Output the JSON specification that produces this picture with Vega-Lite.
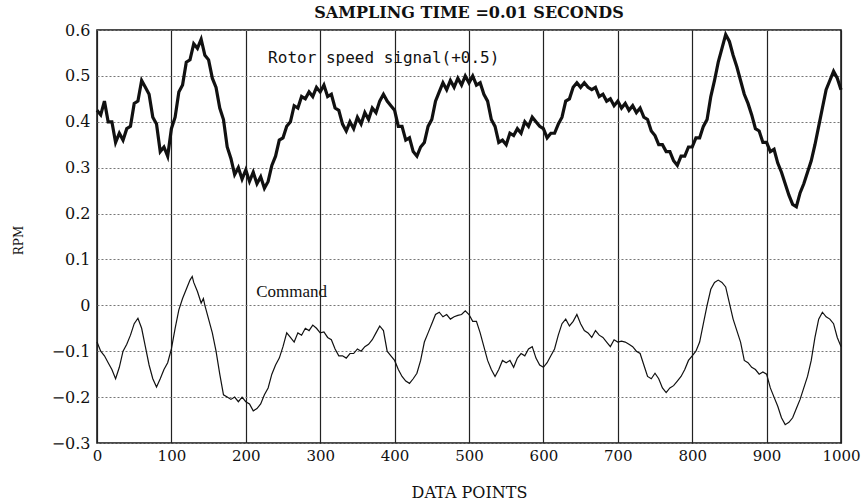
{
  "$schema": "https://vega.github.io/schema/vega-lite/v6.json",
  "width": 744,
  "height": 413,
  "autosize": {"type": "none"},
  "padding": {"left": 97, "top": 30, "right": 22, "bottom": 61},
  "background": "white",
  "title": {"text": "SAMPLING TIME =0.01 SECONDS", "font": "DejaVu Serif", "fontSize": 16, "fontWeight": "bold", "anchor": "middle", "offset": 1, "color": "#111"},
  "config": {
    "view": {"stroke": "#111", "strokeWidth": 1.5},
    "font": "DejaVu Serif"
  },
  "datasets": {
    "rotor": [
      {"x":0,"y":0.425},{"x":5,"y":0.415},{"x":10,"y":0.445},{"x":15,"y":0.40},{"x":20,"y":0.40},{"x":25,"y":0.355},{"x":30,"y":0.375},{"x":35,"y":0.36},{"x":40,"y":0.385},{"x":45,"y":0.39},
      {"x":50,"y":0.44},{"x":55,"y":0.445},{"x":60,"y":0.49},{"x":65,"y":0.475},{"x":70,"y":0.46},{"x":75,"y":0.41},{"x":80,"y":0.395},{"x":85,"y":0.335},{"x":90,"y":0.345},{"x":95,"y":0.325},
      {"x":100,"y":0.385},{"x":105,"y":0.41},{"x":110,"y":0.465},{"x":115,"y":0.48},{"x":120,"y":0.53},{"x":125,"y":0.535},{"x":130,"y":0.57},{"x":135,"y":0.56},{"x":140,"y":0.58},{"x":145,"y":0.545},
      {"x":150,"y":0.535},{"x":155,"y":0.495},{"x":160,"y":0.475},{"x":165,"y":0.43},{"x":170,"y":0.405},{"x":175,"y":0.345},{"x":180,"y":0.32},{"x":185,"y":0.285},{"x":190,"y":0.30},{"x":195,"y":0.275},
      {"x":200,"y":0.295},{"x":205,"y":0.27},{"x":210,"y":0.29},{"x":215,"y":0.265},{"x":220,"y":0.28},{"x":225,"y":0.255},{"x":230,"y":0.27},{"x":235,"y":0.305},{"x":240,"y":0.325},{"x":245,"y":0.36},
      {"x":250,"y":0.365},{"x":255,"y":0.39},{"x":260,"y":0.40},{"x":265,"y":0.435},{"x":270,"y":0.43},{"x":275,"y":0.455},{"x":280,"y":0.45},{"x":285,"y":0.465},{"x":290,"y":0.455},{"x":295,"y":0.475},
      {"x":300,"y":0.465},{"x":305,"y":0.48},{"x":310,"y":0.455},{"x":315,"y":0.46},{"x":320,"y":0.43},{"x":325,"y":0.425},{"x":330,"y":0.395},{"x":335,"y":0.38},{"x":340,"y":0.40},{"x":345,"y":0.385},
      {"x":350,"y":0.41},{"x":355,"y":0.395},{"x":360,"y":0.42},{"x":365,"y":0.405},{"x":370,"y":0.43},{"x":375,"y":0.42},{"x":380,"y":0.445},{"x":385,"y":0.46},{"x":390,"y":0.445},{"x":395,"y":0.435},
      {"x":400,"y":0.425},{"x":405,"y":0.39},{"x":410,"y":0.39},{"x":415,"y":0.36},{"x":420,"y":0.365},{"x":425,"y":0.335},{"x":430,"y":0.325},{"x":435,"y":0.345},{"x":440,"y":0.355},{"x":445,"y":0.39},
      {"x":450,"y":0.405},{"x":455,"y":0.445},{"x":460,"y":0.465},{"x":465,"y":0.485},{"x":470,"y":0.47},{"x":475,"y":0.49},{"x":480,"y":0.475},{"x":485,"y":0.495},{"x":490,"y":0.48},{"x":495,"y":0.50},
      {"x":500,"y":0.485},{"x":505,"y":0.50},{"x":510,"y":0.48},{"x":515,"y":0.485},{"x":520,"y":0.46},{"x":525,"y":0.445},{"x":530,"y":0.405},{"x":535,"y":0.39},{"x":540,"y":0.355},{"x":545,"y":0.36},
      {"x":550,"y":0.35},{"x":555,"y":0.375},{"x":560,"y":0.37},{"x":565,"y":0.385},{"x":570,"y":0.375},{"x":575,"y":0.40},{"x":580,"y":0.39},{"x":585,"y":0.41},{"x":590,"y":0.40},{"x":595,"y":0.39},
      {"x":600,"y":0.385},{"x":605,"y":0.365},{"x":610,"y":0.375},{"x":615,"y":0.375},{"x":620,"y":0.395},{"x":625,"y":0.41},{"x":630,"y":0.445},{"x":635,"y":0.45},{"x":640,"y":0.475},{"x":645,"y":0.485},
      {"x":650,"y":0.475},{"x":655,"y":0.485},{"x":660,"y":0.475},{"x":665,"y":0.47},{"x":670,"y":0.475},{"x":675,"y":0.455},{"x":680,"y":0.46},{"x":685,"y":0.445},{"x":690,"y":0.45},{"x":695,"y":0.435},
      {"x":700,"y":0.445},{"x":705,"y":0.43},{"x":710,"y":0.44},{"x":715,"y":0.425},{"x":720,"y":0.435},{"x":725,"y":0.42},{"x":730,"y":0.43},{"x":735,"y":0.41},{"x":740,"y":0.405},{"x":745,"y":0.38},
      {"x":750,"y":0.37},{"x":755,"y":0.35},{"x":760,"y":0.35},{"x":765,"y":0.335},{"x":770,"y":0.335},{"x":775,"y":0.315},{"x":780,"y":0.305},{"x":785,"y":0.325},{"x":790,"y":0.325},{"x":795,"y":0.345},
      {"x":800,"y":0.345},{"x":805,"y":0.365},{"x":810,"y":0.365},{"x":815,"y":0.39},{"x":820,"y":0.405},{"x":825,"y":0.455},{"x":830,"y":0.49},{"x":835,"y":0.53},{"x":840,"y":0.56},{"x":845,"y":0.59},
      {"x":850,"y":0.575},{"x":855,"y":0.545},{"x":860,"y":0.52},{"x":865,"y":0.49},{"x":870,"y":0.46},{"x":875,"y":0.44},{"x":880,"y":0.415},{"x":885,"y":0.385},{"x":890,"y":0.38},{"x":895,"y":0.355},
      {"x":900,"y":0.355},{"x":905,"y":0.335},{"x":910,"y":0.34},{"x":915,"y":0.31},{"x":920,"y":0.29},{"x":925,"y":0.265},{"x":930,"y":0.24},{"x":935,"y":0.22},{"x":940,"y":0.215},{"x":945,"y":0.245},
      {"x":950,"y":0.265},{"x":955,"y":0.29},{"x":960,"y":0.315},{"x":965,"y":0.35},{"x":970,"y":0.39},{"x":975,"y":0.43},{"x":980,"y":0.47},{"x":985,"y":0.49},{"x":990,"y":0.51},{"x":995,"y":0.495},
      {"x":1000,"y":0.47}
    ],
    "command": [
      {"x":0,"y":-0.08},{"x":5,"y":-0.1},{"x":10,"y":-0.11},{"x":15,"y":-0.125},{"x":20,"y":-0.14},{"x":25,"y":-0.16},{"x":30,"y":-0.135},{"x":35,"y":-0.1},{"x":40,"y":-0.085},{"x":45,"y":-0.065},
      {"x":50,"y":-0.04},{"x":55,"y":-0.028},{"x":60,"y":-0.05},{"x":65,"y":-0.09},{"x":70,"y":-0.13},{"x":75,"y":-0.16},{"x":80,"y":-0.178},{"x":85,"y":-0.16},{"x":90,"y":-0.14},{"x":95,"y":-0.125},
      {"x":100,"y":-0.095},{"x":105,"y":-0.05},{"x":110,"y":-0.01},{"x":115,"y":0.015},{"x":120,"y":0.035},{"x":125,"y":0.055},{"x":128,"y":0.063},{"x":130,"y":0.05},{"x":135,"y":0.03},{"x":140,"y":0.005},
      {"x":143,"y":0.015},{"x":145,"y":0.0},{"x":150,"y":-0.03},{"x":155,"y":-0.06},{"x":160,"y":-0.1},{"x":165,"y":-0.15},{"x":170,"y":-0.195},{"x":175,"y":-0.2},{"x":180,"y":-0.205},{"x":185,"y":-0.2},
      {"x":190,"y":-0.21},{"x":195,"y":-0.2},{"x":200,"y":-0.21},{"x":205,"y":-0.215},{"x":210,"y":-0.23},{"x":215,"y":-0.225},{"x":220,"y":-0.215},{"x":225,"y":-0.195},{"x":230,"y":-0.18},{"x":235,"y":-0.15},
      {"x":240,"y":-0.13},{"x":245,"y":-0.115},{"x":250,"y":-0.09},{"x":255,"y":-0.06},{"x":260,"y":-0.07},{"x":265,"y":-0.08},{"x":270,"y":-0.06},{"x":275,"y":-0.065},{"x":280,"y":-0.05},{"x":285,"y":-0.055},
      {"x":290,"y":-0.043},{"x":295,"y":-0.05},{"x":300,"y":-0.06},{"x":305,"y":-0.058},{"x":310,"y":-0.07},{"x":315,"y":-0.075},{"x":320,"y":-0.095},{"x":325,"y":-0.11},{"x":330,"y":-0.11},{"x":335,"y":-0.115},
      {"x":340,"y":-0.105},{"x":345,"y":-0.105},{"x":350,"y":-0.095},{"x":355,"y":-0.1},{"x":360,"y":-0.09},{"x":365,"y":-0.085},{"x":370,"y":-0.075},{"x":375,"y":-0.06},{"x":380,"y":-0.045},{"x":385,"y":-0.055},
      {"x":390,"y":-0.1},{"x":395,"y":-0.11},{"x":400,"y":-0.12},{"x":405,"y":-0.14},{"x":410,"y":-0.155},{"x":415,"y":-0.165},{"x":420,"y":-0.17},{"x":425,"y":-0.16},{"x":430,"y":-0.148},{"x":435,"y":-0.12},
      {"x":440,"y":-0.08},{"x":445,"y":-0.06},{"x":450,"y":-0.04},{"x":455,"y":-0.02},{"x":460,"y":-0.015},{"x":465,"y":-0.025},{"x":470,"y":-0.02},{"x":475,"y":-0.03},{"x":480,"y":-0.025},{"x":485,"y":-0.022},
      {"x":490,"y":-0.02},{"x":495,"y":-0.012},{"x":500,"y":-0.02},{"x":505,"y":-0.035},{"x":510,"y":-0.035},{"x":515,"y":-0.06},{"x":520,"y":-0.09},{"x":525,"y":-0.12},{"x":530,"y":-0.14},{"x":535,"y":-0.155},
      {"x":540,"y":-0.14},{"x":545,"y":-0.12},{"x":550,"y":-0.125},{"x":555,"y":-0.12},{"x":560,"y":-0.135},{"x":565,"y":-0.115},{"x":570,"y":-0.105},{"x":575,"y":-0.11},{"x":580,"y":-0.095},{"x":585,"y":-0.09},
      {"x":590,"y":-0.115},{"x":595,"y":-0.13},{"x":600,"y":-0.135},{"x":605,"y":-0.125},{"x":610,"y":-0.11},{"x":615,"y":-0.095},{"x":620,"y":-0.065},{"x":625,"y":-0.04},{"x":630,"y":-0.03},{"x":635,"y":-0.045},
      {"x":640,"y":-0.035},{"x":645,"y":-0.02},{"x":650,"y":-0.04},{"x":655,"y":-0.055},{"x":660,"y":-0.06},{"x":665,"y":-0.07},{"x":670,"y":-0.055},{"x":675,"y":-0.065},{"x":680,"y":-0.07},{"x":685,"y":-0.08},
      {"x":690,"y":-0.09},{"x":695,"y":-0.075},{"x":700,"y":-0.08},{"x":705,"y":-0.078},{"x":710,"y":-0.08},{"x":715,"y":-0.085},{"x":720,"y":-0.09},{"x":725,"y":-0.1},{"x":730,"y":-0.105},{"x":735,"y":-0.13},
      {"x":740,"y":-0.155},{"x":745,"y":-0.16},{"x":750,"y":-0.148},{"x":755,"y":-0.16},{"x":760,"y":-0.18},{"x":765,"y":-0.19},{"x":770,"y":-0.18},{"x":775,"y":-0.175},{"x":780,"y":-0.165},{"x":785,"y":-0.155},
      {"x":790,"y":-0.14},{"x":795,"y":-0.12},{"x":800,"y":-0.11},{"x":805,"y":-0.1},{"x":810,"y":-0.08},{"x":815,"y":-0.04},{"x":820,"y":0.0},{"x":825,"y":0.035},{"x":830,"y":0.05},{"x":835,"y":0.055},
      {"x":840,"y":0.05},{"x":845,"y":0.04},{"x":850,"y":0.005},{"x":855,"y":-0.03},{"x":860,"y":-0.055},{"x":865,"y":-0.08},{"x":870,"y":-0.12},{"x":875,"y":-0.125},{"x":880,"y":-0.135},{"x":885,"y":-0.14},
      {"x":890,"y":-0.15},{"x":895,"y":-0.145},{"x":900,"y":-0.15},{"x":905,"y":-0.18},{"x":910,"y":-0.2},{"x":915,"y":-0.22},{"x":920,"y":-0.245},{"x":925,"y":-0.26},{"x":930,"y":-0.255},{"x":935,"y":-0.245},
      {"x":940,"y":-0.225},{"x":945,"y":-0.205},{"x":950,"y":-0.18},{"x":955,"y":-0.155},{"x":960,"y":-0.12},{"x":965,"y":-0.07},{"x":970,"y":-0.03},{"x":975,"y":-0.015},{"x":980,"y":-0.025},{"x":985,"y":-0.03},
      {"x":990,"y":-0.04},{"x":995,"y":-0.07},{"x":1000,"y":-0.09}
    ]
  },
  "layer": [
    {
      "data": {"name": "rotor"},
      "mark": {"type": "line", "color": "#111", "strokeWidth": 3.2, "strokeJoin": "miter"},
      "encoding": {
        "x": {"field": "x", "type": "quantitative",
          "scale": {"domain": [0, 1000], "nice": false},
          "axis": {"values": [0,100,200,300,400,500,600,700,800,900,1000], "format": "d", "grid": true, "gridColor": "#222", "gridWidth": 1.2, "domain": false, "ticks": false,
            "labelFont": "DejaVu Serif", "labelFontSize": 15, "labelColor": "#111", "labelPadding": 5, "labelFlush": false,
            "title": "DATA POINTS", "titleFont": "DejaVu Serif", "titleFontSize": 16, "titleFontWeight": "normal", "titleColor": "#111", "titleY": 41, "titleBaseline": "top"}},
        "y": {"field": "y", "type": "quantitative",
          "scale": {"domain": [-0.3, 0.6], "nice": false, "zero": false},
          "axis": {"values": [-0.3,-0.2,-0.1,0,0.1,0.2,0.3,0.4,0.5,0.6], "grid": true, "gridColor": "#777", "gridDash": [2, 2], "gridWidth": 1, "domain": false, "ticks": false,
            "labelExpr": "datum.value == 0 ? '0' : format(datum.value, '.1f')",
            "labelFont": "DejaVu Serif", "labelFontSize": 16, "labelColor": "#111", "labelPadding": 7, "labelFlush": false,
            "title": "RPM", "titleFont": "DejaVu Serif", "titleFontSize": 12, "titleFontWeight": "normal", "titleColor": "#111", "titleX": -72, "titleY": 210}}
      }
    },
    {
      "data": {"name": "command"},
      "mark": {"type": "line", "color": "#111", "strokeWidth": 1.2},
      "encoding": {
        "x": {"field": "x", "type": "quantitative"},
        "y": {"field": "y", "type": "quantitative"}
      }
    },
    {
      "data": {"values": [{"x": 230, "y": 0.539, "label": "Rotor speed signal(+0.5)"}]},
      "mark": {"type": "text", "font": "DejaVu Sans Mono", "fontSize": 16, "align": "left", "baseline": "middle", "color": "#111"},
      "encoding": {
        "x": {"field": "x", "type": "quantitative"},
        "y": {"field": "y", "type": "quantitative"},
        "text": {"field": "label"}
      }
    },
    {
      "data": {"values": [{"x": 214, "y": 0.028, "label": "Command"}]},
      "mark": {"type": "text", "font": "Liberation Serif", "fontSize": 17, "align": "left", "baseline": "middle", "color": "#111"},
      "encoding": {
        "x": {"field": "x", "type": "quantitative"},
        "y": {"field": "y", "type": "quantitative"},
        "text": {"field": "label"}
      }
    }
  ]
}
